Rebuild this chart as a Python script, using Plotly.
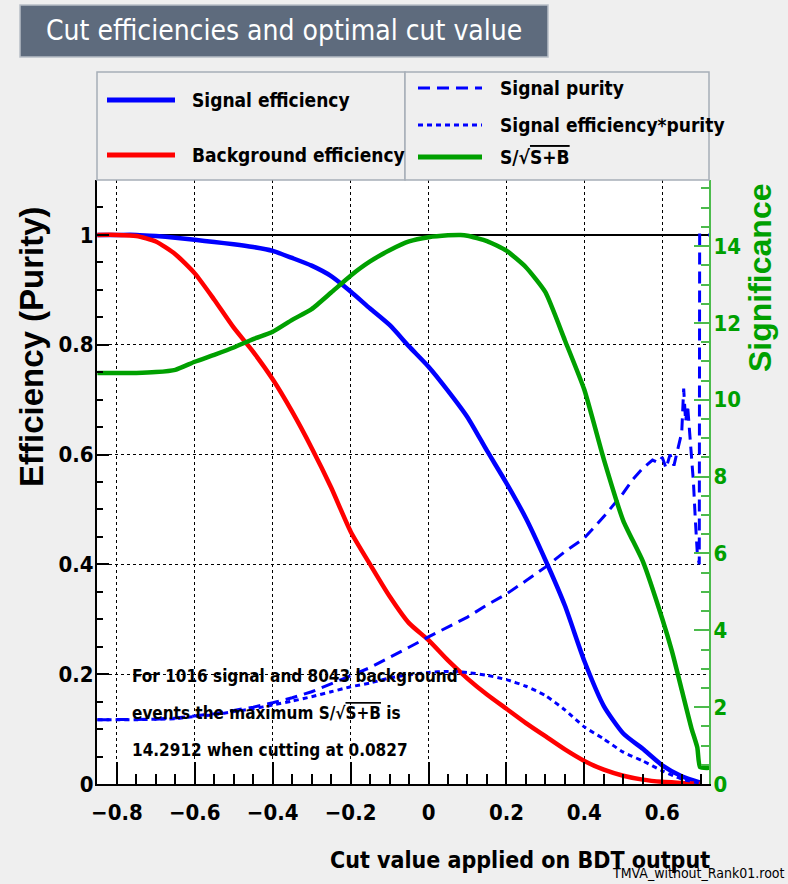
import plotly.graph_objects as go

# ---- data -------------------------------------------------------------
cut_x = [-0.85, -0.8, -0.75, -0.7, -0.65, -0.6, -0.55, -0.5, -0.45, -0.4,
         -0.35, -0.3, -0.25, -0.2, -0.15, -0.1, -0.05, 0.0, 0.05, 0.1,
         0.15, 0.2, 0.25, 0.3, 0.35, 0.4, 0.45, 0.5, 0.55, 0.6, 0.65, 0.7]

signal_eff = [1.0, 1.0, 1.0, 0.998, 0.995, 0.991, 0.987, 0.983, 0.978, 0.971,
              0.958, 0.944, 0.925, 0.897, 0.866, 0.836, 0.797, 0.760, 0.716, 0.668,
              0.607, 0.548, 0.484, 0.408, 0.325, 0.224, 0.142, 0.092, 0.064, 0.034,
              0.014, 0.002]

background_eff = [1.0, 1.0, 0.998, 0.988, 0.965, 0.93, 0.882, 0.831, 0.787, 0.737,
                  0.678, 0.612, 0.54, 0.46, 0.40, 0.342, 0.293, 0.262, 0.225, 0.192,
                  0.163, 0.137, 0.111, 0.087, 0.063, 0.042, 0.026, 0.015, 0.008, 0.004,
                  0.002, 0.0]

eff_times_purity = [0.117, 0.117, 0.117, 0.118, 0.119, 0.123, 0.126, 0.132, 0.137, 0.144,
                    0.151, 0.159, 0.168, 0.177, 0.184, 0.193, 0.199, 0.203, 0.205, 0.203,
                    0.198, 0.19, 0.178, 0.161, 0.135, 0.104, 0.082, 0.058, 0.042, 0.024,
                    0.009, 0.001]

purity_x = [-0.85, -0.8, -0.75, -0.7, -0.65, -0.6, -0.55, -0.5, -0.45, -0.4,
            -0.35, -0.3, -0.25, -0.2, -0.15, -0.1, -0.05, 0.0, 0.05, 0.1,
            0.15, 0.2, 0.25, 0.3, 0.35, 0.4, 0.45, 0.5, 0.525, 0.55,
            0.575, 0.59, 0.60, 0.61, 0.62, 0.63, 0.64, 0.65, 0.655, 0.66,
            0.665, 0.675, 0.68, 0.685, 0.69, 0.695, 0.696, 0.72]
signal_purity = [0.117, 0.117, 0.117, 0.118, 0.12, 0.124, 0.128, 0.134, 0.14, 0.148,
                 0.157, 0.168, 0.182, 0.197, 0.212, 0.23, 0.249, 0.268, 0.286, 0.304,
                 0.326, 0.346, 0.37, 0.395, 0.423, 0.448, 0.487, 0.53, 0.555, 0.575,
                 0.59, 0.585, 0.595, 0.575, 0.60, 0.58, 0.61, 0.64, 0.72, 0.66,
                 0.69, 0.60, 0.55, 0.48, 0.42, 0.40, 1.0, 1.0]

signif_x = [-0.85, -0.8, -0.75, -0.7, -0.65, -0.6, -0.55, -0.5, -0.45, -0.4,
            -0.35, -0.3, -0.25, -0.2, -0.15, -0.1, -0.05, 0.0, 0.05, 0.0827,
            0.1, 0.15, 0.2, 0.25, 0.3, 0.35, 0.4, 0.45, 0.5, 0.55,
            0.6, 0.625, 0.65, 0.675, 0.69, 0.697, 0.72]
significance = [10.70, 10.70, 10.70, 10.72, 10.78, 10.99, 11.17, 11.36, 11.58, 11.77,
                12.08, 12.36, 12.79, 13.23, 13.60, 13.89, 14.12, 14.23, 14.28, 14.29,
                14.27, 14.13, 13.88, 13.45, 12.80, 11.55, 10.26, 8.45, 6.85, 5.80,
                4.30, 3.45, 2.45, 1.45, 0.95, 0.44, 0.42]

n_signal = 1016
n_background = 8043
max_signif = 14.2912
best_cut = 0.0827

# ---- style ------------------------------------------------------------
FONT = "Liberation Sans Narrow, DejaVu Sans Condensed, Liberation Sans, Arial"
WIDE = "Liberation Sans, Arial"
BLUE = "#0000ff"
RED = "#ff0000"
GREEN = "#00a000"
AXIS_GREEN = "#4cbb4c"
CANVAS = "#efefef"
SQRT_SB = "S/√<span style='text-decoration:overline'>S+B</span>"

fig = go.Figure()

fig.add_trace(go.Scatter(x=cut_x, y=signal_eff, mode="lines",
                         line=dict(color=BLUE, width=4.5, shape="spline", smoothing=0.6),
                         name="Signal efficiency"))
fig.add_trace(go.Scatter(x=cut_x, y=background_eff, mode="lines",
                         line=dict(color=RED, width=4.5, shape="spline", smoothing=0.6),
                         name="Background efficiency"))
fig.add_trace(go.Scatter(x=purity_x, y=signal_purity, mode="lines",
                         line=dict(color=BLUE, width=3, dash="12px,7px"),
                         name="Signal purity"))
fig.add_trace(go.Scatter(x=cut_x, y=eff_times_purity, mode="lines",
                         line=dict(color=BLUE, width=3, dash="5px,4px",
                                   shape="spline", smoothing=0.6),
                         name="Signal efficiency*purity"))
fig.add_trace(go.Scatter(x=signif_x, y=significance, mode="lines", yaxis="y2",
                         line=dict(color=GREEN, width=4.5, shape="spline", smoothing=0.5),
                         name="S/sqrt(S+B)"))

tick_font = dict(family=FONT, size=22, color="black", weight="bold")

fig.update_layout(
    width=788, height=884,
    margin=dict(l=97, r=79, t=180, b=100),
    paper_bgcolor=CANVAS,
    plot_bgcolor="white",
    showlegend=False,
    xaxis=dict(
        range=[-0.851, 0.72], dtick=0.2, tick0=0,
        showline=True, linecolor="black", linewidth=2, mirror=False,
        ticks="inside", ticklen=22, tickwidth=1.5, tickcolor="black",
        minor=dict(dtick=0.05, ticks="inside", ticklen=10, tickcolor="black", tickwidth=1.5),
        showgrid=True, gridcolor="black", griddash="dot", gridwidth=1,
        tickfont=tick_font, ticklabelstandoff=8, zeroline=False,
    ),
    yaxis=dict(
        range=[0, 1.1], dtick=0.2, tick0=0,
        showline=True, linecolor="black", linewidth=2,
        ticks="inside", ticklen=12, tickwidth=1.5, tickcolor="black",
        minor=dict(dtick=0.05, ticks="inside", ticklen=6, tickcolor="black", tickwidth=1.5),
        showgrid=True, gridcolor="black", griddash="dot", gridwidth=1,
        tickfont=tick_font, ticklabelstandoff=-3, zeroline=False,
    ),
    yaxis2=dict(
        range=[0, 15.72], dtick=2, tick0=0, overlaying="y", side="right",
        showline=True, linecolor=AXIS_GREEN, linewidth=2,
        ticks="inside", ticklen=15, tickwidth=1.5, tickcolor=AXIS_GREEN,
        minor=dict(dtick=0.5, ticks="inside", ticklen=8, tickcolor=AXIS_GREEN, tickwidth=1.5),
        showgrid=False, zeroline=False,
        tickfont=dict(family=FONT, size=22, color=GREEN, weight="bold"),
        ticklabelstandoff=-2,
    ),
)

shapes = []
annotations = []


def px_x(p):
    return (p - 97) / 612.0


def px_y(p):
    return (784 - p) / 604.0


# reference line at efficiency 1
shapes.append(dict(type="line", xref="paper", yref="y", x0=0, x1=1, y0=1, y1=1,
                   line=dict(color="black", width=2), layer="below"))

# title box
shapes.append(dict(type="rect", xref="paper", yref="paper",
                   x0=px_x(20), x1=px_x(548), y0=px_y(57), y1=px_y(5),
                   fillcolor="#5e6b7d", line=dict(color="#b8bec6", width=1.5)))
annotations.append(dict(xref="paper", yref="paper", x=px_x(284), y=px_y(31),
                        text="Cut efficiencies and optimal cut value", showarrow=False,
                        font=dict(family=FONT, size=28, color="white"),
                        xanchor="center", yanchor="middle"))

# legend boxes
for x0, x1 in [(97, 405), (405, 709)]:
    shapes.append(dict(type="rect", xref="paper", yref="paper",
                       x0=px_x(x0), x1=px_x(x1), y0=px_y(180), y1=px_y(72),
                       fillcolor=CANVAS, line=dict(color="#a7afb8", width=1.5)))

legend_items = [
    (107, 175, 100, BLUE, "solid", 5, 190, "Signal efficiency"),
    (107, 175, 155, RED, "solid", 5, 190, "Background efficiency"),
    (418, 482, 88, BLUE, "12px,7px", 3, 498, "Signal purity"),
    (418, 482, 125, BLUE, "5px,4px", 3, 498, "Signal efficiency*purity"),
    (418, 482, 157, GREEN, "solid", 5, 498, SQRT_SB),
]
for lx0, lx1, ly, col, dash, w, tx, label in legend_items:
    shapes.append(dict(type="line", xref="paper", yref="paper",
                       x0=px_x(lx0), x1=px_x(lx1), y0=px_y(ly), y1=px_y(ly),
                       line=dict(color=col, width=w, dash=dash)))
    annotations.append(dict(xref="paper", yref="paper", x=px_x(tx), y=px_y(ly),
                            text=label, showarrow=False, xanchor="left", yanchor="middle",
                            font=dict(family=FONT, size=19, color="black", weight="bold")))

# axis titles
annotations.append(dict(xref="paper", yref="paper", x=px_x(31), y=px_y(347),
                        text="Efficiency (Purity)", textangle=-90, showarrow=False,
                        xanchor="center", yanchor="middle",
                        font=dict(family=WIDE, size=33, color="black", weight="bold")))
annotations.append(dict(xref="paper", yref="paper", x=px_x(760), y=px_y(278),
                        text="Significance", textangle=-90, showarrow=False,
                        xanchor="center", yanchor="middle",
                        font=dict(family=WIDE, size=32, color=GREEN, weight="bold")))
annotations.append(dict(xref="paper", yref="paper", x=px_x(712), y=px_y(860),
                        text="Cut value applied on BDT output", showarrow=False,
                        xanchor="right", yanchor="middle",
                        font=dict(family=FONT, size=23, color="black", weight="bold")))
annotations.append(dict(xref="paper", yref="paper", x=px_x(787), y=px_y(873),
                        text="TMVA_without_Rank01.root", showarrow=False,
                        xanchor="right", yanchor="middle",
                        font=dict(family=FONT, size=14, color="black")))

# optimal cut summary
summary = [
    f"For {n_signal} signal and {n_background} background",
    f"events the maximum {SQRT_SB} is",
    f"{max_signif} when cutting at {best_cut}",
]
for line, yp in zip(summary, [676, 713, 750]):
    annotations.append(dict(xref="paper", yref="paper", x=px_x(130), y=px_y(yp),
                            text=line, showarrow=False, xanchor="left", yanchor="middle",
                            font=dict(family=FONT, size=17, color="black", weight="bold")))

fig.update_layout(shapes=shapes, annotations=annotations)

fig.write_html("out.html")
